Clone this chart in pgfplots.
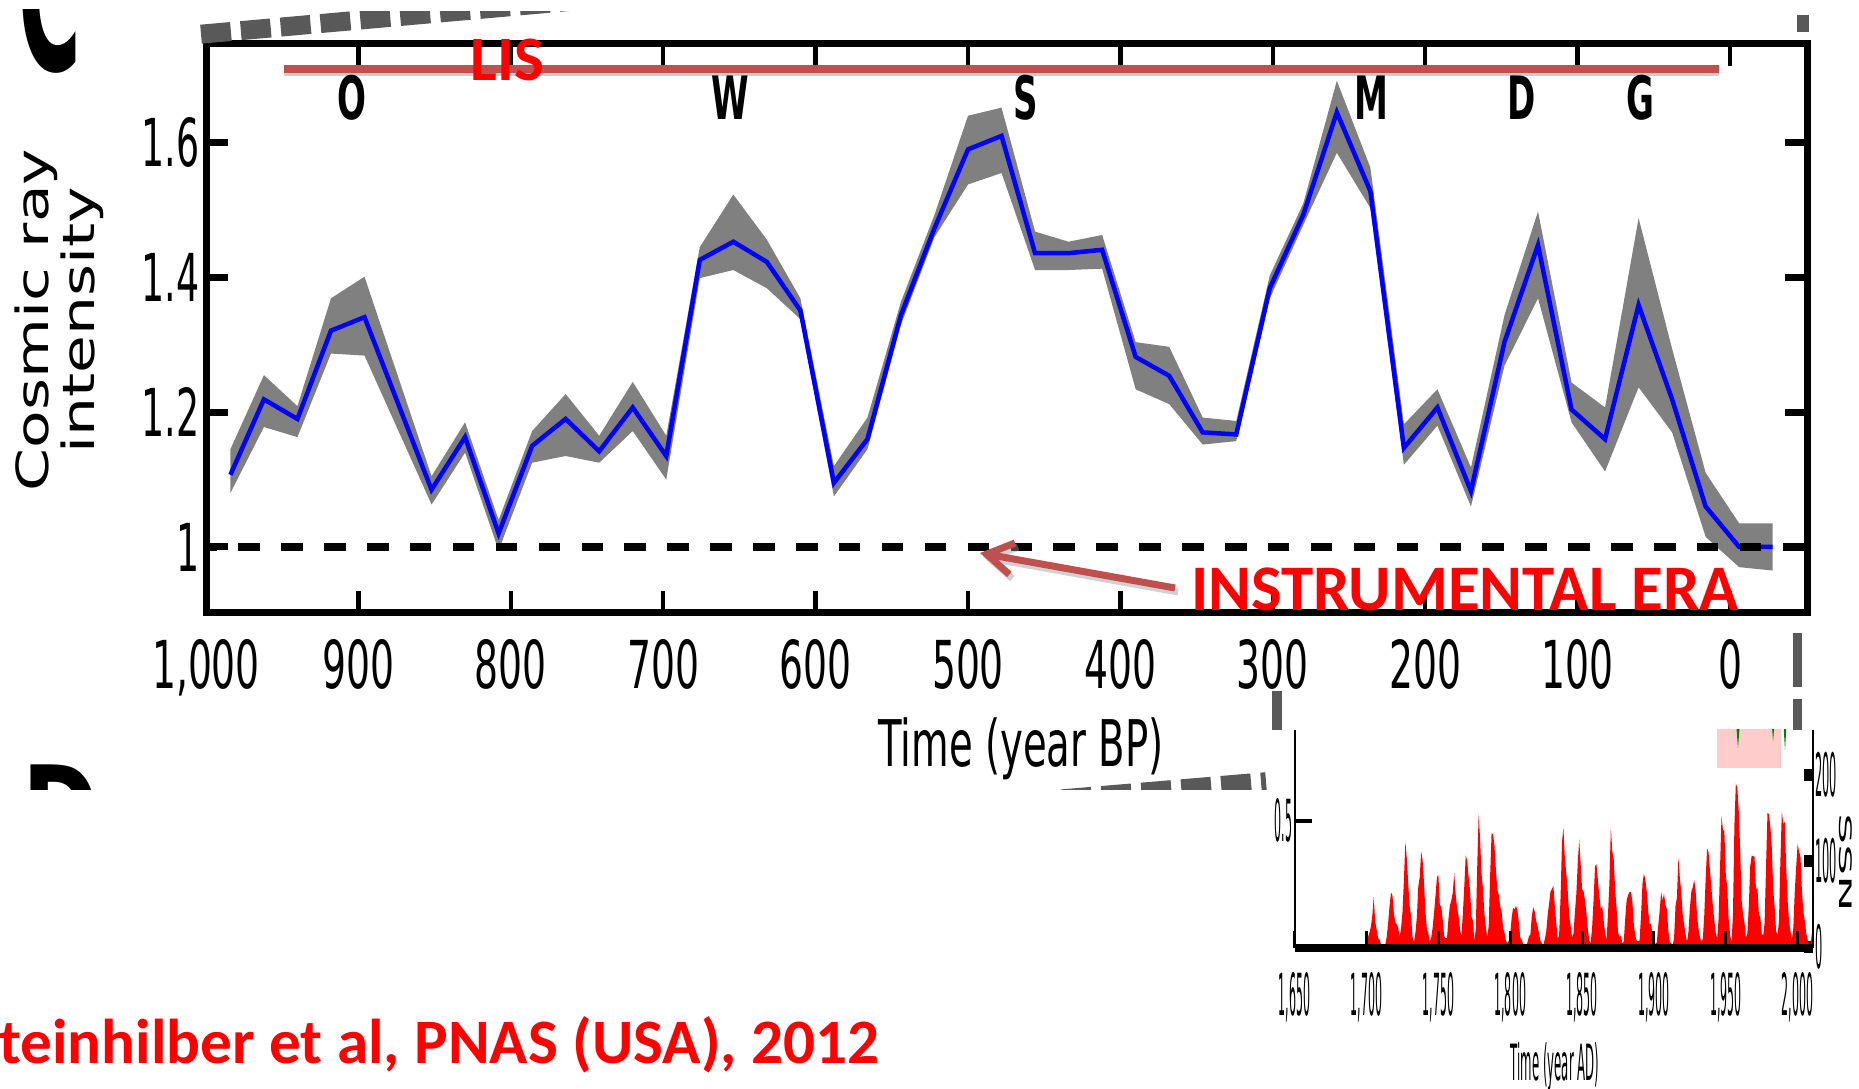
\documentclass[border=0pt]{standalone}
\usepackage{fontspec}
\setmainfont{DejaVu Sans}
\newfontfamily\carlito{Carlito}
\usepackage{pgfplots}
\pgfplotsset{compat=1.18}
\usepackage{pgfplotstable}
\usepgfplotslibrary{fillbetween}
\usetikzlibrary{arrows.meta}
\definecolor{bandgray}{HTML}{808080}
\definecolor{linkgray}{HTML}{595959}
\definecolor{lisred}{HTML}{C0504D}
\definecolor{pinkbox}{HTML}{FFCCCC}
\definecolor{spotgreen}{HTML}{008000}

% cosmic ray intensity, 22-yr steps (year BP), mean and band
\pgfplotstableread{
year mean up lo
984 1.107 1.145 1.080
962 1.219 1.255 1.178
940 1.190 1.209 1.163
918 1.321 1.369 1.287
896 1.341 1.401 1.284
852 1.085 1.105 1.063
830 1.163 1.185 1.140
808 1.020 1.040 0.995
786 1.150 1.172 1.125
764 1.190 1.227 1.135
742 1.142 1.165 1.125
720 1.207 1.245 1.172
698 1.135 1.165 1.100
676 1.426 1.445 1.399
654 1.453 1.523 1.411
632 1.423 1.456 1.384
610 1.351 1.369 1.338
588 1.095 1.120 1.075
566 1.160 1.192 1.145
544 1.344 1.364 1.330
522 1.473 1.493 1.460
500 1.590 1.640 1.538
478 1.610 1.652 1.555
456 1.436 1.468 1.411
434 1.436 1.453 1.411
412 1.441 1.463 1.413
390 1.282 1.304 1.234
368 1.254 1.297 1.212
346 1.170 1.192 1.152
324 1.167 1.187 1.157
302 1.384 1.403 1.369
280 1.493 1.510 1.478
258 1.645 1.692 1.585
236 1.528 1.563 1.503
214 1.147 1.182 1.122
192 1.207 1.234 1.180
170 1.083 1.118 1.060
148 1.304 1.344 1.269
126 1.448 1.498 1.369
104 1.204 1.244 1.185
82 1.160 1.207 1.112
60 1.359 1.488 1.237
38 1.219 1.294 1.170
16 1.060 1.110 1.015
-6 1.000 1.035 0.970
-28 1.000 1.035 0.965
}\cosmic

% yearly sunspot number
\pgfplotstableread{
year ssn
1700 5.0
1701 11.0
1702 16.0
1703 23.0
1704 36.0
1705 58.0
1706 29.0
1707 20.0
1708 10.0
1709 8.0
1710 3.0
1711 0.0
1712 0.0
1713 2.0
1714 11.0
1715 27.0
1716 47.0
1717 63.0
1718 60.0
1719 39.0
1720 28.0
1721 26.0
1722 22.0
1723 11.0
1724 21.0
1725 40.0
1726 78.0
1727 122.0
1728 103.0
1729 73.0
1730 47.0
1731 35.0
1732 11.0
1733 5.0
1734 16.0
1735 34.0
1736 70.0
1737 81.0
1738 111.0
1739 101.0
1740 73.0
1741 40.0
1742 20.0
1743 16.0
1744 5.0
1745 11.0
1746 22.0
1747 40.0
1748 60.0
1749 80.9
1750 83.4
1751 47.7
1752 47.8
1753 30.7
1754 12.2
1755 9.6
1756 10.2
1757 32.4
1758 47.6
1759 54.0
1760 62.9
1761 85.9
1762 61.2
1763 45.1
1764 36.4
1765 20.9
1766 11.4
1767 37.8
1768 69.8
1769 106.1
1770 100.8
1771 81.6
1772 66.5
1773 34.8
1774 30.6
1775 7.0
1776 19.8
1777 92.5
1778 154.4
1779 125.9
1780 84.8
1781 68.1
1782 38.5
1783 22.8
1784 10.2
1785 24.1
1786 82.9
1787 132.0
1788 130.9
1789 118.1
1790 89.9
1791 66.6
1792 60.0
1793 46.9
1794 41.0
1795 21.3
1796 16.0
1797 6.4
1798 4.1
1799 6.8
1800 14.5
1801 34.0
1802 45.0
1803 43.1
1804 47.5
1805 42.2
1806 28.1
1807 10.1
1808 8.1
1809 2.5
1810 0.0
1811 1.4
1812 5.0
1813 12.2
1814 13.9
1815 35.4
1816 45.8
1817 41.1
1818 30.1
1819 23.9
1820 15.6
1821 6.6
1822 4.0
1823 1.8
1824 8.5
1825 16.6
1826 36.3
1827 49.6
1828 64.2
1829 67.0
1830 70.9
1831 47.8
1832 27.5
1833 8.5
1834 13.2
1835 56.9
1836 121.5
1837 138.3
1838 103.2
1839 85.7
1840 64.6
1841 36.7
1842 24.2
1843 10.7
1844 15.0
1845 40.1
1846 61.5
1847 98.5
1848 124.7
1849 96.3
1850 66.6
1851 64.5
1852 54.1
1853 39.0
1854 20.6
1855 6.7
1856 4.3
1857 22.7
1858 54.8
1859 93.8
1860 95.8
1861 77.2
1862 59.1
1863 44.0
1864 47.0
1865 30.5
1866 16.3
1867 7.3
1868 37.6
1869 74.0
1870 139.0
1871 111.2
1872 101.6
1873 66.2
1874 44.7
1875 17.0
1876 11.3
1877 12.4
1878 3.4
1879 6.0
1880 32.3
1881 54.3
1882 59.7
1883 63.7
1884 63.5
1885 52.2
1886 25.4
1887 13.1
1888 6.8
1889 6.3
1890 7.1
1891 35.6
1892 73.0
1893 85.1
1894 78.0
1895 64.0
1896 41.8
1897 26.2
1898 26.7
1899 12.1
1900 9.5
1901 2.7
1902 5.0
1903 24.4
1904 42.0
1905 63.5
1906 53.8
1907 62.0
1908 48.5
1909 43.9
1910 18.6
1911 5.7
1912 3.6
1913 1.4
1914 9.6
1915 47.4
1916 57.1
1917 103.9
1918 80.6
1919 63.6
1920 37.6
1921 26.1
1922 14.2
1923 5.8
1924 16.7
1925 44.3
1926 63.9
1927 69.0
1928 77.8
1929 64.9
1930 35.7
1931 21.2
1932 11.1
1933 5.7
1934 8.7
1935 36.1
1936 79.7
1937 114.4
1938 109.6
1939 88.8
1940 67.8
1941 47.5
1942 30.6
1943 16.3
1944 9.6
1945 33.2
1946 92.6
1947 151.6
1948 136.3
1949 134.7
1950 83.9
1951 69.4
1952 31.5
1953 13.9
1954 4.4
1955 38.0
1956 141.7
1957 190.2
1958 184.8
1959 159.0
1960 112.3
1961 53.9
1962 37.6
1963 27.9
1964 10.2
1965 15.1
1966 47.0
1967 93.8
1968 105.9
1969 105.5
1970 104.5
1971 66.6
1972 68.9
1973 38.0
1974 34.5
1975 15.5
1976 12.6
1977 27.5
1978 92.5
1979 155.4
1980 154.6
1981 140.4
1982 115.9
1983 66.6
1984 45.9
1985 17.9
1986 13.4
1987 29.4
1988 100.2
1989 157.6
1990 142.6
1991 145.7
1992 94.3
1993 54.6
1994 29.9
1995 17.5
1996 8.6
1997 21.5
1998 64.3
1999 93.3
2000 119.6
2001 111.0
2002 104.0
2003 63.7
2004 40.4
2005 29.8
2006 15.2
2007 7.5
2008 2.9
2009 3.1
2010 16.5
}\sunspots

\begin{document}
\begin{tikzpicture}

% ---- panel C: cosmic ray intensity
\begin{axis}[
  at={(2.06cm,4.76cm)}, anchor=south west,
  width=16.01cm, height=5.69cm, scale only axis,
  x dir=reverse, xmin=-50.5, xmax=1000,
  ymin=0.902, ymax=1.7465,
  xtick={1000,900,800,700,600,500,400,300,200,100,0},
  xticklabels={1{,}000,900,800,700,600,500,400,300,200,100,0},
  ytick={1,1.2,1.4,1.6}, yticklabels={1,1.2,1.4,1.6},
  axis line style={line width=0.7mm},
  tick align=inside, major tick length=2.2mm,
  xtick style={line width=0.45mm, black},
  ytick style={line width=0.7mm, black},
  tick label style={font=\fontsize{18.8}{20}\selectfont},
  xticklabel style={xscale=0.57, yshift=-1.4mm},
  yticklabel style={xscale=0.55},
]
\addplot[name path=up, draw=none] table[x=year, y=up]{\cosmic};
\addplot[name path=lo, draw=none] table[x=year, y=lo]{\cosmic};
\addplot[fill=bandgray, draw=none] fill between[of=up and lo];
\addplot[blue, line width=0.45mm] table[x=year, y=mean]{\cosmic};
\addplot[black, line width=0.75mm, dash pattern=on 2.15mm off 2.14mm, dash phase=1.06mm]
  coordinates {(1000,1) (-50.5,1)};
\addplot[black!40, opacity=0.5, line width=0.8mm, yshift=-0.35mm]
  coordinates {(949,1.7097) (7,1.7097)};
\addplot[lisred, line width=0.75mm] coordinates {(949,1.7097) (7,1.7097)};
\node[font=\bfseries\fontsize{17}{17}\selectfont, xscale=0.57] at (axis cs:904,1.667) {O};
\node[font=\bfseries\fontsize{17}{17}\selectfont, xscale=0.57] at (axis cs:656,1.667) {W};
\node[font=\bfseries\fontsize{17}{17}\selectfont, xscale=0.57] at (axis cs:462,1.667) {S};
\node[font=\bfseries\fontsize{17}{17}\selectfont, xscale=0.57] at (axis cs:235,1.667) {M};
\node[font=\bfseries\fontsize{17}{17}\selectfont, xscale=0.57] at (axis cs:136.5,1.667) {D};
\node[font=\bfseries\fontsize{17}{17}\selectfont, xscale=0.57] at (axis cs:59,1.667) {G};
\end{axis}

% ---- panel D inset: sunspot number (right axis)
\begin{axis}[
  at={(12.947cm,1.407cm)}, anchor=south west,
  width=5.183cm, height=2.183cm, scale only axis,
  xmin=1650, xmax=2010.7, ymin=-2, ymax=252.4,
  axis x line=none, axis y line*=right,
  xtick=\empty,
  ytick={0,100,200}, yticklabels={0,100,200},
  y axis line style={line width=0.25mm, -},
  tick align=inside, major tick length=0.9mm,
  ytick style={line width=1.2mm, black},
  yticklabel style={font=\fontsize{17}{17}\selectfont, xscale=0.19},
]
\addplot[fill=pinkbox, draw=none] coordinates {(1944,208) (1988.4,208) (1988.4,260) (1944,260)} -- cycle;
\addplot[fill=spotgreen, draw=none] coordinates {(1957.2,260) (1958.5,231.6) (1959.8,260)} -- cycle;
\addplot[fill=spotgreen, draw=none] coordinates {(1982.0,260) (1982.9,238.6) (1983.8,260)} -- cycle;
\addplot[fill=spotgreen, draw=none] coordinates {(1990.1,260) (1991.2,229.0) (1992.3,260)} -- cycle;
\addplot[fill=red, draw=none] table[x=year, y=ssn]{\sunspots} \closedcycle;
\end{axis}

% ---- panel D inset: left axis and time axis
\begin{axis}[
  at={(12.947cm,1.407cm)}, anchor=south west,
  width=5.183cm, height=2.183cm, scale only axis,
  xmin=1650, xmax=2010.7, ymin=-0.068, ymax=0.904,
  axis x line*=bottom, axis y line*=left,
  x axis line style={line width=0.8mm, -},
  y axis line style={line width=0.22mm, -},
  xtick={1650,1700,1750,1800,1850,1900,1950,2000},
  xticklabels={1{,}650,1{,}700,1{,}750,1{,}800,1{,}850,1{,}900,1{,}950,2{,}000},
  ytick={0.5}, yticklabels={0.5},
  tick align=inside, major tick length=1.7mm,
  xtick style={line width=0.3mm, black},
  ytick style={line width=0.4mm, black},
  tick label style={font=\fontsize{16.5}{16.5}\selectfont, xscale=0.19},
  xticklabel style={yshift=-1.2mm},
]
\addplot[draw=none] coordinates {(1650,0) (2010,0.5)};
\end{axis}

% ---- annotations, in picture pixels (y downwards)
\begin{scope}[x=0.1mm, y=-0.1mm, shift={(0cm,10.89cm)}]
  % panel letters, partly covered
  \begin{scope}
    \clip (0,10) rectangle (140,100);
    \node[anchor=base west, inner sep=0, font=\bfseries\fontsize{58}{58}\selectfont, xscale=0.42] at (18,71) {C};
  \end{scope}
  \begin{scope}
    \clip (0,762) rectangle (140,790);
    \node[anchor=base west, inner sep=0, font=\bfseries\fontsize{35}{35}\selectfont, xscale=0.75] at (22,855) {D};
  \end{scope}
  % zoom connectors
  \begin{scope}
    \clip (0,12) rectangle (1859,1089);
    \draw[linkgray, line width=1.9mm, dash pattern=on 3mm off 1mm] (201,34.2) -- (640,-4.8);
  \end{scope}
  \begin{scope}
    \clip (0,0) rectangle (1859,790);
    \draw[linkgray, line width=1.9mm, dash pattern=on 3mm off 1mm] (982,805.6) -- (1266,781.7);
  \end{scope}
  \draw[linkgray, line width=1.0mm] (1277,691) -- (1277,730);
  \draw[linkgray, line width=0.9mm] (1797,633) -- (1797,687);
  \draw[linkgray, line width=0.9mm] (1797,699) -- (1797,730);
  \draw[linkgray, line width=1.2mm] (1803,15) -- (1803,32);
  % axis titles
  \node[rotate=90, yscale=0.72, align=center, font=\fontsize{17.5}{18.2}\selectfont] at (59,320) {Cosmic ray\\intensity};
  \node[anchor=base, xscale=0.6, font=\fontsize{18.3}{20}\selectfont] at (1021,767) {Time (year BP)};
  \node[anchor=base, xscale=0.235, font=\fontsize{14.2}{15}\selectfont] at (1555,1080) {Time (year AD)};
  \node[rotate=-90, yscale=0.35, font=\fontsize{14}{14}\selectfont] at (1846,863) {SSN};
  % red overlay
  \node[text=red, font=\carlito\bfseries\fontsize{18}{18}\selectfont] at (507.6,60) {LIS};
  \draw[black!40, opacity=0.45, line width=0.7mm, -{Straight Barb[length=2.6mm, width=3.2mm, line width=0.7mm]}]
    (1178,592) -- (983,557);
  \draw[lisred, line width=0.7mm, -{Straight Barb[length=2.6mm, width=3.2mm, line width=0.7mm]}]
    (1175,588) -- (980,553);
  \node[text=red, font=\carlito\bfseries\fontsize{18.5}{18.5}\selectfont] at (1465,589) {INSTRUMENTAL ERA};
  \node[anchor=base east, inner sep=0, text=red, font=\carlito\bfseries\fontsize{18}{18}\selectfont] at (880,1063) {Steinhilber et al, PNAS (USA), 2012};
\end{scope}

\pgfresetboundingbox
\path[use as bounding box] (0,0) rectangle (18.59,10.89);
\end{tikzpicture}
\end{document}
